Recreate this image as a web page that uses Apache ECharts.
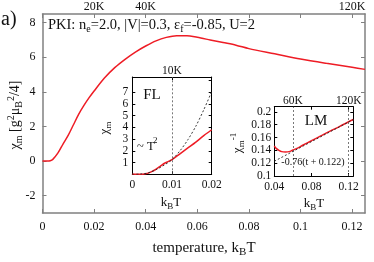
<!DOCTYPE html>
<html><head><meta charset="utf-8">
<script src="https://cdn.jsdelivr.net/npm/echarts@6/dist/echarts.min.js"></script>
<style>html,body{margin:0;padding:0;background:#fff}#c{width:374px;height:262px}</style>
</head><body><div id="c"></div>
<script>
// ---- data ----
const mainT   = [0, 0.002, 0.003, 0.004, 0.006, 0.008, 0.010, 0.012, 0.014, 0.016, 0.018, 0.020, 0.024, 0.028, 0.032, 0.036, 0.040, 0.044, 0.048, 0.052, 0.056, 0.060, 0.065, 0.070, 0.075, 0.080, 0.090, 0.100, 0.110, 0.120, 0.125];
const mainChi = [0, 0, 0.02, 0.1, 0.47, 1.0, 1.5, 2.1, 2.7, 3.2, 3.65, 4.05, 4.8, 5.4, 5.88, 6.3, 6.65, 6.95, 7.15, 7.25, 7.25, 7.15, 7.0, 6.85, 6.7, 6.5, 6.2, 5.9, 5.65, 5.42, 5.3];

const flT      = [0, 0.002, 0.003, 0.004, 0.005, 0.006, 0.007, 0.008, 0.009, 0.010, 0.012, 0.014, 0.016, 0.018, 0.020];
const flChi    = [0, 0, 0.02, 0.1, 0.25, 0.45, 0.68, 0.92, 1.08, 1.25, 1.75, 2.25, 2.75, 3.3, 3.8];
const flFitT   = [0, 0.002, 0.004, 0.006, 0.008, 0.010, 0.012, 0.014, 0.016, 0.018, 0.020];
const flFitChi = [0, 0.02, 0.12, 0.4, 0.78, 1.25, 2.0, 2.95, 4.1, 5.5, 7.05];

const lmT      = [0.040, 0.042, 0.045, 0.048, 0.052, 0.056, 0.060, 0.065, 0.070, 0.080, 0.090, 0.100, 0.110, 0.120, 0.125];
const lmInv    = [0.147, 0.143, 0.140, 0.138, 0.1375, 0.138, 0.1405, 0.1435, 0.1475, 0.155, 0.1625, 0.170, 0.177, 0.1845, 0.188];
const lmFitT   = [0.040, 0.125];
const lmFitInv = [0.123, 0.188];

const mainXTicks = [0, 0.02, 0.04, 0.06, 0.08, 0.1, 0.12];
const mainYTicks = [-2, 0, 2, 4, 6, 8];
const mainTopVals = [0.02, 0.04, 0.12];
const mainTopLabels = ['20K', '40K', '120K'];
const flXTicks = [0, 0.01, 0.02];
const flYTicks = [0, 1, 2, 3, 4, 5, 6, 7, 8];
const flTopVals = [0.01];
const flTopLabels = ['10K'];
const lmXTicks = [0.04, 0.08, 0.12];
const lmYTicks = [0.1, 0.12, 0.14, 0.16, 0.18, 0.2];
const lmTopVals = [0.06, 0.12];
const lmTopLabels = ['60K', '120K'];

// ---- chart ----
const FF = 'Liberation Serif';
const TXT = '#111';
const RED = '#ee1c25';
const pairs = (xs, ys) => xs.map((x, i) => [x, ys[i]]);
const lbl = (vals, labels) => v => { const i = vals.findIndex(a => Math.abs(a - v) < 1e-9); return i < 0 ? '' : labels[i]; };

function ax(grid, min, max, pos, ticks, labVals, fmt, color, lw, fs, margin, tlen) {
  return {
    type: 'value', gridIndex: grid, min, max, position: pos,
    axisLine: { show: true, onZero: false, lineStyle: { color, width: lw } },
    axisTick: { show: true, inside: true, length: tlen, customValues: ticks, lineStyle: { color, width: 1 } },
    axisLabel: { show: labVals.length > 0, customValues: labVals, formatter: fmt,
      fontSize: fs, fontFamily: FF, color: TXT, margin },
    splitLine: { show: false }
  };
}
const num = v => String(+v.toFixed(4));
const GRAY = '#808080';

function txt(x, y, text, fs, opts = {}) {
  const sf = opts.subFs || Math.round(fs * 0.72);
  const rich = {
    s: { fontSize: sf, fontFamily: FF, fill: TXT, padding: [8, 0, 0, 0] },
    p: { fontSize: sf, fontFamily: FF, fill: TXT, padding: [0, 0, 8, 0] }
  };
  return {
    type: 'text', x, y, rotation: opts.rot || 0, z: 100,
    style: { text, fontSize: fs, fontFamily: FF, fill: TXT, align: opts.align || 'center', verticalAlign: 'middle', rich }
  };
}
function plain(x, y, text, fs, align) {
  return { type: 'text', x, y, z: 100,
    style: { text, fontSize: fs, fontFamily: FF, fill: TXT, align: align || 'left', verticalAlign: 'middle' } };
}

const option = {
  animation: false,
  backgroundColor: '#fff',
  textStyle: { fontFamily: FF },
  grid: [
    { left: 42.5, top: 14, width: 322.5, height: 199 },
    { left: 132.3, top: 77, width: 79.4, height: 97.3 },
    { left: 274.3, top: 106.7, width: 79, height: 69.3 }
  ],
  xAxis: [
    ax(0, 0, 0.125, 'bottom', mainXTicks, mainXTicks, num, GRAY, 1.5, 12, 8, 4),
    ax(0, 0, 0.125, 'top', mainXTicks, mainTopVals, lbl(mainTopVals, mainTopLabels), GRAY, 1.5, 12, 1, 4),
    ax(1, 0, 0.02, 'bottom', flXTicks, flXTicks, num, '#000', 1, 11.5, 5, 3),
    ax(1, 0, 0.02, 'top', flXTicks, flTopVals, lbl(flTopVals, flTopLabels), '#000', 1, 11.5, 0, 3),
    ax(2, 0.04, 0.125, 'bottom', lmXTicks, lmXTicks, num, '#000', 1, 11.5, 5, 3),
    ax(2, 0.04, 0.125, 'top', lmXTicks, lmTopVals, lbl(lmTopVals, lmTopLabels), '#000', 1, 11.5, 0, 3)
  ],
  yAxis: [
    ax(0, -3, 8.5, 'left', mainYTicks, mainYTicks, num, GRAY, 1.5, 12, 7, 4),
    ax(0, -3, 8.5, 'right', mainYTicks, [], num, GRAY, 1.5, 12, 7, 4),
    ax(1, 0, 8.3, 'left', flYTicks, flYTicks, num, '#000', 1, 11.5, 4, 3),
    ax(1, 0, 8.3, 'right', flYTicks, [], num, '#000', 1, 11.5, 4, 3),
    ax(2, 0.1, 0.208, 'left', lmYTicks, lmYTicks, num, '#000', 1, 11.5, 3, 3),
    ax(2, 0.1, 0.208, 'right', lmYTicks, [], num, '#000', 1, 11.5, 3, 3)
  ],
  series: [
    { type: 'line', xAxisIndex: 0, yAxisIndex: 0, data: pairs(mainT, mainChi), showSymbol: false, smooth: 0.3,
      lineStyle: { color: RED, width: 1.5 }, silent: true },
    { type: 'line', xAxisIndex: 2, yAxisIndex: 2, data: pairs(flT, flChi), showSymbol: false, smooth: 0.3,
      lineStyle: { color: RED, width: 1.5 }, silent: true,
      markLine: { silent: true, symbol: ['none', 'none'], label: { show: false },
        lineStyle: { type: [2, 2], color: '#555', width: 0.8 }, data: [{ xAxis: flTopVals[0] }] } },
    { type: 'line', xAxisIndex: 2, yAxisIndex: 2, data: pairs(flFitT, flFitChi), showSymbol: false, smooth: 0.3,
      lineStyle: { color: '#222', width: 0.9, type: [2, 2] }, silent: true },
    { type: 'line', xAxisIndex: 4, yAxisIndex: 4, data: pairs(lmT, lmInv), showSymbol: false, smooth: 0.3,
      lineStyle: { color: RED, width: 1.5 }, silent: true,
      markLine: { silent: true, symbol: ['none', 'none'], label: { show: false },
        lineStyle: { type: [2, 2], color: '#555', width: 0.8 }, data: lmTopVals.map(v => ({ xAxis: v })) } },
    { type: 'line', xAxisIndex: 4, yAxisIndex: 4, data: pairs(lmFitT, lmFitInv), showSymbol: false,
      lineStyle: { color: '#222', width: 0.9, type: [2, 2] }, silent: true }
  ],
  graphic: [
    txt(1, 20, 'a)', 20, { align: 'left' }),
    txt(48, 25, 'PKI: n{s|e}=2.0, |V|=0.3, ε{s|f}=-0.85, U=2', 14.5, { align: 'left', subFs: 10 }),
    txt(15, 115, 'χ{s|m} [g{p|2}μ{s|B}{p|2}/4]', 14, { rot: Math.PI / 2 }),
    txt(204, 248, 'temperature, k{s|B}T', 15),
    txt(152, 95, 'FL', 15),
    plain(137, 147, '~ T', 12.5, 'left'),
    plain(153, 141, '2', 9, 'left'),
    txt(105, 128, 'χ{s|m}', 13, { rot: Math.PI / 2 }),
    txt(171, 203, 'k{s|B}T', 13),
    txt(316, 121, 'LM', 15),
    txt(313, 162, '-0.76(t + 0.122)', 10),
    txt(238, 143, 'χ{s|m}{p|-1}', 13, { rot: Math.PI / 2 }),
    txt(314, 204, 'k{s|B}T', 13)
  ]
};
echarts.init(document.getElementById('c'), null, { renderer: 'canvas' }).setOption(option);
</script>
</body></html>
